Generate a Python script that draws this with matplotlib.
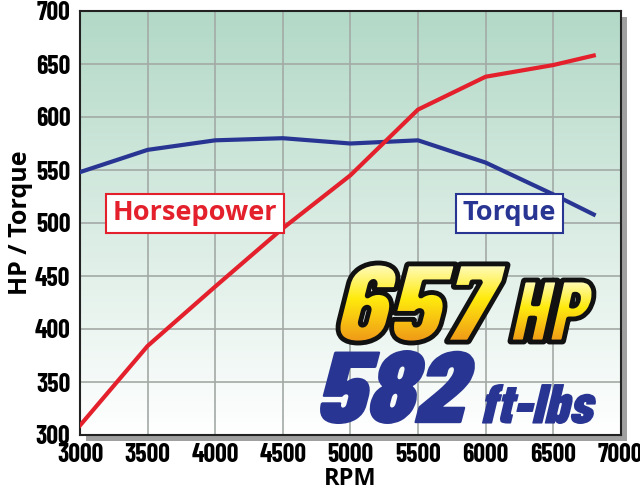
import numpy as np
import matplotlib
matplotlib.use("Agg")
import matplotlib.pyplot as plt
from matplotlib.textpath import TextPath
from matplotlib.font_manager import FontProperties
from matplotlib.patches import PathPatch, Rectangle
from matplotlib.transforms import Affine2D

rpm = [3000, 3500, 4000, 4500, 5000, 5500, 6000, 6500, 6800]
hp = [309, 384, 440, 495, 545, 607, 638, 649, 658]
torque = [548, 569, 578, 580, 575, 578, 557, 527, 508]

x_ticks = [3000, 3500, 4000, 4500, 5000, 5500, 6000, 6500, 7000]
y_ticks = [300, 350, 400, 450, 500, 550, 600, 650, 700]

peak_hp = "657"
peak_tq = "582"

red = "#e3202b"
blue = "#283592"
cond_font = "Barlow Condensed"
label_font = "Open Sans"

fig = plt.figure(figsize=(6.4, 5.0), dpi=100)
pos = [0.125, 0.13, 0.845, 0.848]
ax = fig.add_axes(pos, zorder=1)

# drop shadow behind the plot frame
shadow = Rectangle((pos[0] + 6 / 640, pos[1] - 6 / 500), pos[2], pos[3],
                   transform=fig.transFigure, facecolor="#a0a0a0",
                   edgecolor="none", zorder=-5)
fig.patches.append(shadow)

# green-to-white gradient background
g = np.linspace(0, 1, 256).reshape(-1, 1, 1)
c_top = np.array([0.70, 0.85, 0.78])
c_bot = np.array([1.0, 1.0, 1.0])
bg = (c_bot + (c_top - c_bot) * g) * np.ones((1, 2, 1))
ax.imshow(bg, extent=[3000, 7000, 300, 700], origin="lower",
          aspect="auto", zorder=0)

ax.set_xlim(3000, 7000)
ax.set_ylim(300, 700)
ax.set_xticks(x_ticks)
ax.set_yticks(y_ticks)
ax.grid(True, color="#a3aaa6", linewidth=1.2, zorder=1)
ax.tick_params(axis="x", length=0, pad=6)
ax.tick_params(axis="y", length=0, pad=7)
for lab in ax.get_xticklabels() + ax.get_yticklabels():
    lab.set_fontfamily(cond_font)
    lab.set_fontweight("bold")
    lab.set_fontsize(18.5)
for s in ax.spines.values():
    s.set_linewidth(1.5)
    s.set_color("#222222")

ax.plot(rpm, torque, color=blue, linewidth=3, zorder=3)
ax.plot(rpm, hp, color=red, linewidth=3, zorder=4)

ax.set_xlabel("RPM", fontsize=17, fontweight="bold", labelpad=0,
              fontfamily=label_font)
ax.set_ylabel("HP / Torque", fontsize=18, fontweight="bold", labelpad=1,
              fontfamily=label_font)

ax.text(3852, 509, "Horsepower", color=red, fontsize=19.5, fontweight="bold",
        fontfamily=label_font, ha="center", va="center", zorder=5,
        bbox=dict(boxstyle="square,pad=0.25", facecolor="white",
                  edgecolor=red, linewidth=1.5))
ax.text(6178, 509, "Torque", color=blue, fontsize=19.5, fontweight="bold",
        fontfamily=label_font, ha="center", va="center", zorder=5,
        bbox=dict(boxstyle="square,pad=0.25", facecolor="white",
                  edgecolor=blue, linewidth=1.5))

# big headline numbers, drawn as paths in figure pixel space
over = fig.add_axes([0, 0, 1, 1], facecolor="none", zorder=2)
over.axis("off")
fp = FontProperties(family=cond_font, weight=900)


def fit_path(text, x0, y0, x1, y1):
    # place text path in box given in image pixels (y down)
    p = TextPath((0, 0), text, size=100, prop=fp)
    p = Affine2D().skew_deg(14, 0).transform_path(p)
    ext = p.get_extents()
    sx = (x1 - x0) / ext.width
    sy = (y1 - y0) / ext.height
    t = (Affine2D().translate(-ext.x0, -ext.y0).scale(sx, sy)
         .translate(x0, 500 - y1))
    return t.transform_path(p)


def gradient_text(text, box):
    path = fit_path(text, *box)
    patch = PathPatch(path, facecolor="none", edgecolor="none")
    over.add_patch(patch)
    c0 = np.array([1.0, 1.0, 0.88])
    c1 = np.array([1.0, 0.92, 0.05])
    c2 = np.array([0.93, 0.55, 0.10])
    cols = []
    for v in np.linspace(0, 1, 200):
        if v < 0.45:
            cols.append(c0 + (c1 - c0) * v / 0.45)
        else:
            cols.append(c1 + (c2 - c1) * (v - 0.45) / 0.55)
    im_arr = np.array(cols).reshape(-1, 1, 3)
    x0, y0, x1, y1 = box
    im = over.imshow(im_arr, extent=[x0 - 5, x1 + 5, 500 - y1 - 5, 500 - y0 + 5],
                     origin="upper", aspect="auto", zorder=6)
    im.set_clip_path(patch)
    over.add_patch(PathPatch(path, facecolor="none", edgecolor="#111111",
                             linewidth=3.5, zorder=7))


gradient_text(peak_hp, (338, 263, 508, 343))
gradient_text("HP", (510, 280, 594, 342))

p582 = fit_path(peak_tq, 320, 350, 475, 424)
over.add_patch(PathPatch(p582, facecolor=blue, edgecolor="none", zorder=6))
pft = fit_path("ft-lbs", 482, 384, 596, 424)
over.add_patch(PathPatch(pft, facecolor=blue, edgecolor="none", zorder=6))
over.set_xlim(0, 640)
over.set_ylim(0, 500)

fig.savefig("out.png", dpi=100)
